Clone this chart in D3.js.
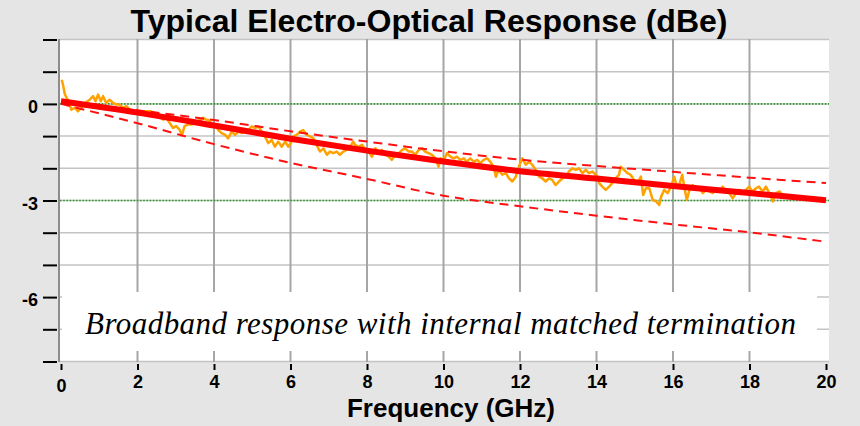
<!DOCTYPE html>
<html><head><meta charset="utf-8">
<script src="https://cdn.jsdelivr.net/npm/d3@7"></script>
<style>html,body{margin:0;padding:0;background:#e5e5e5;}svg{display:block;}</style>
</head><body>
<script>
const titleText = "Typical Electro-Optical Response (dBe)";
const xAxisTitle = "Frequency (GHz)";
const annotation = "Broadband response with internal matched termination";
const xTicks = [0,2,4,6,8,10,12,14,16,18,20];
const yTicks = [2,1,0,-1,-2,-3,-4,-5,-6,-7,-8];
const yLabelled = [0,-3,-6];
const refLevels = [0,-3];

const measFreq = [0.02,0.06,0.10,0.15,0.18,0.27,0.36,0.44,0.53,0.62,0.75,0.84,0.90,0.97,1.04,1.10,1.18,1.27,1.36,1.45,1.53,1.62,1.71,1.80,1.93,2.06,2.19,2.32,2.45,2.54,2.67,2.75,2.84,2.93,3.01,3.10,3.16,3.23,3.32,3.41,3.50,3.58,3.71,3.80,3.85,3.94,4.03,4.11,4.20,4.29,4.37,4.46,4.55,4.64,4.72,4.81,4.90,4.99,5.07,5.16,5.25,5.33,5.42,5.51,5.59,5.68,5.77,5.86,5.94,6.03,6.07,6.16,6.25,6.33,6.42,6.51,6.60,6.68,6.77,6.86,6.95,7.03,7.12,7.21,7.29,7.38,7.47,7.56,7.64,7.69,7.78,7.87,7.96,8.04,8.13,8.22,8.31,8.39,8.48,8.57,8.65,8.74,8.83,8.92,9.00,9.09,9.18,9.26,9.35,9.44,9.52,9.61,9.70,9.79,9.87,9.92,10.01,10.09,10.18,10.27,10.35,10.44,10.53,10.61,10.70,10.79,10.88,10.96,11.05,11.14,11.22,11.31,11.37,11.44,11.54,11.63,11.71,11.80,11.89,11.97,12.06,12.15,12.24,12.32,12.41,12.50,12.58,12.67,12.76,12.84,12.93,13.02,13.11,13.19,13.28,13.37,13.46,13.54,13.63,13.72,13.80,13.89,13.98,14.07,14.15,14.24,14.33,14.41,14.50,14.59,14.63,14.72,14.81,14.89,14.98,15.07,15.16,15.22,15.29,15.38,15.47,15.56,15.64,15.69,15.77,15.86,15.95,16.03,16.10,16.16,16.24,16.30,16.36,16.43,16.52,16.60,16.69,16.78,16.86,16.95,17.04,17.12,17.21,17.30,17.39,17.47,17.56,17.65,17.73,17.82,17.91,17.99,18.08,18.17,18.25,18.34,18.43,18.52,18.61,18.69,18.78,18.87];
const measDb = [0.75,0.55,0.30,0.18,0.13,-0.18,-0.12,-0.23,-0.12,0.03,0.13,0.24,0.08,0.29,0.08,0.24,0.03,0.13,0.03,-0.02,-0.02,-0.12,-0.07,-0.18,-0.23,-0.28,-0.23,-0.23,-0.28,-0.33,-0.49,-0.43,-0.59,-0.75,-0.69,-0.80,-0.98,-0.69,-0.64,-0.64,-0.59,-0.54,-0.43,-0.49,-0.50,-0.60,-0.65,-0.81,-0.91,-0.96,-1.07,-0.86,-0.96,-0.86,-0.91,-0.86,-0.81,-0.70,-0.75,-0.70,-0.86,-1.01,-1.22,-1.12,-1.33,-1.17,-1.33,-1.17,-1.33,-1.17,-1.01,-0.96,-0.86,-0.81,-0.96,-1.01,-1.07,-1.27,-1.48,-1.38,-1.58,-1.48,-1.53,-1.48,-1.58,-1.48,-1.43,-1.33,-1.17,-1.27,-1.33,-1.27,-1.43,-1.48,-1.64,-1.38,-1.53,-1.43,-1.58,-1.64,-1.74,-1.58,-1.53,-1.43,-1.38,-1.48,-1.48,-1.58,-1.43,-1.38,-1.48,-1.53,-1.58,-1.69,-1.95,-1.69,-1.74,-1.53,-1.64,-1.69,-1.64,-1.74,-1.69,-1.79,-1.69,-1.79,-1.74,-1.84,-1.74,-1.69,-1.79,-1.95,-2.26,-2.05,-2.20,-2.15,-2.31,-2.41,-2.26,-1.95,-1.69,-1.89,-1.79,-1.89,-2.05,-2.26,-2.31,-2.41,-2.31,-2.36,-2.52,-2.41,-2.31,-2.26,-2.10,-2.00,-2.05,-2.00,-2.15,-2.05,-2.15,-2.10,-2.20,-2.46,-2.57,-2.67,-2.57,-2.46,-2.31,-2.20,-1.95,-2.05,-2.15,-2.20,-2.36,-2.46,-2.26,-2.83,-2.62,-2.62,-2.98,-3.03,-3.14,-2.88,-2.67,-2.77,-2.57,-2.26,-2.57,-2.52,-2.20,-2.62,-2.98,-2.67,-2.52,-2.67,-2.62,-2.77,-2.67,-2.72,-2.77,-2.67,-2.72,-2.57,-2.72,-2.77,-2.93,-2.77,-2.67,-2.72,-2.67,-2.57,-2.72,-2.62,-2.57,-2.72,-2.57,-2.77,-3.03,-2.77,-2.72,-2.83];

const fitFreq = [0,2,4,6,8,10,12,14,16,18,20];
const fitMid = [0.08,-0.27,-0.67,-1.08,-1.45,-1.79,-2.09,-2.32,-2.55,-2.77,-2.99];
const fitUpper = [0.05,-0.20,-0.50,-0.85,-1.17,-1.47,-1.73,-1.93,-2.11,-2.29,-2.46];
const fitLower = [0.0,-0.60,-1.25,-1.83,-2.33,-2.85,-3.18,-3.47,-3.74,-3.99,-4.28];

const W = 860, H = 426;
const svg = d3.select("body").append("svg").attr("width", W).attr("height", H);
svg.append("rect").attr("width", W).attr("height", H).attr("fill", "#e5e5e5");

const x = d3.scaleLinear().domain([0, 20]).range([61, 826]);
const y = d3.scaleLinear().domain([-8, 2]).range([361.5, 39.5]);
const plotL = 59, plotR = 829, plotT = 39, plotB = 362;

svg.append("rect").attr("x", plotL).attr("y", plotT).attr("width", plotR - plotL).attr("height", plotB - plotT).attr("fill", "#fff");

// horizontal grid
svg.append("g").selectAll("line").data(yTicks).join("line")
  .attr("x1", plotL).attr("x2", plotR)
  .attr("y1", d => y(d)).attr("y2", d => y(d))
  .attr("stroke", "#c4c4c4").attr("stroke-width", 1.5);
// vertical grid
svg.append("g").selectAll("line").data(xTicks.filter(d => d > 0 && d < 20)).join("line")
  .attr("x1", d => x(d)).attr("x2", d => x(d))
  .attr("y1", plotT).attr("y2", plotB)
  .attr("stroke", "#a6a6a6").attr("stroke-width", 2);

// reference dotted lines
svg.append("g").selectAll("line").data(refLevels).join("line")
  .attr("x1", plotL + 1).attr("x2", plotR)
  .attr("y1", d => y(d)).attr("y2", d => y(d))
  .attr("stroke", "#2e9a2e").attr("stroke-width", 1.6).attr("stroke-dasharray", "1.6,1.6");

// annotation box
svg.append("rect").attr("x", 62).attr("y", 292).attr("width", 817 - 62).attr("height", 351 - 292).attr("fill", "#fff");
svg.append("text").attr("x", 85).attr("y", 334)
  .attr("font-family", "'Liberation Serif', 'Times New Roman', serif").attr("font-style", "italic")
  .attr("font-size", 31).attr("fill", "#000")
  .attr("textLength", 711).attr("lengthAdjust", "spacing").text(annotation);

const line = d3.line().x(d => x(d[0])).y(d => y(d[1]));
const smooth = d3.line().x(d => x(d[0])).y(d => y(d[1])).curve(d3.curveMonotoneX);

// measured
svg.append("path").datum(measFreq.map((f, i) => [f, measDb[i]]))
  .attr("d", line).attr("fill", "none").attr("stroke", "#ffa200").attr("stroke-width", 2.5).attr("stroke-linejoin", "round");

// dashed limits
[fitUpper, fitLower].forEach(arr => {
  svg.append("path").datum(fitFreq.map((f, i) => [f, arr[i]]))
    .attr("d", smooth).attr("fill", "none").attr("stroke", "#ff1010").attr("stroke-width", 2)
    .attr("stroke-dasharray", "9,6");
});
// fit
svg.append("path").datum(fitFreq.map((f, i) => [f, fitMid[i]]))
  .attr("d", smooth).attr("fill", "none").attr("stroke", "#ff0000").attr("stroke-width", 6);

// left axis line
svg.append("line").attr("x1", plotL).attr("x2", plotL).attr("y1", plotT).attr("y2", plotB)
  .attr("stroke", "#8c8c8c").attr("stroke-width", 2);

// y axis
const yAxis = d3.axisLeft(y).tickValues(yTicks).tickSize(14).tickPadding(5)
  .tickFormat(d => yLabelled.includes(d) ? String(d) : "");
const gy = svg.append("g").attr("transform", "translate(57,0)").call(yAxis);
gy.select(".domain").remove();
gy.selectAll(".tick line").attr("stroke", "#000").attr("stroke-width", 2);
gy.selectAll(".tick text").attr("dy", "0.48em").attr("font-family", "'Liberation Sans', Arial, sans-serif")
  .attr("font-weight", "bold").attr("font-size", 18).attr("fill", "#000");

// x axis
const xAxis = d3.axisBottom(x).tickValues(xTicks).tickSize(6).tickFormat(d => String(d));
const gx = svg.append("g").attr("transform", "translate(0,364)").call(xAxis);
gx.select(".domain").remove();
gx.selectAll(".tick line").attr("stroke", "#000").attr("stroke-width", 2);
gx.selectAll(".tick text").attr("dy", null).attr("y", d => d === 0 ? 28 : 24)
  .attr("font-family", "'Liberation Sans', Arial, sans-serif")
  .attr("font-weight", "bold").attr("font-size", 18).attr("fill", "#000");

// titles
svg.append("text").attr("x", 429).attr("y", 32).attr("text-anchor", "middle")
  .attr("font-family", "'Liberation Sans', Arial, sans-serif").attr("font-weight", "bold")
  .attr("font-size", 32).attr("fill", "#000").text(titleText);
svg.append("text").attr("x", 451).attr("y", 417).attr("text-anchor", "middle")
  .attr("font-family", "'Liberation Sans', Arial, sans-serif").attr("font-weight", "bold")
  .attr("font-size", 26).attr("fill", "#000").text(xAxisTitle);
</script>
</body></html>
